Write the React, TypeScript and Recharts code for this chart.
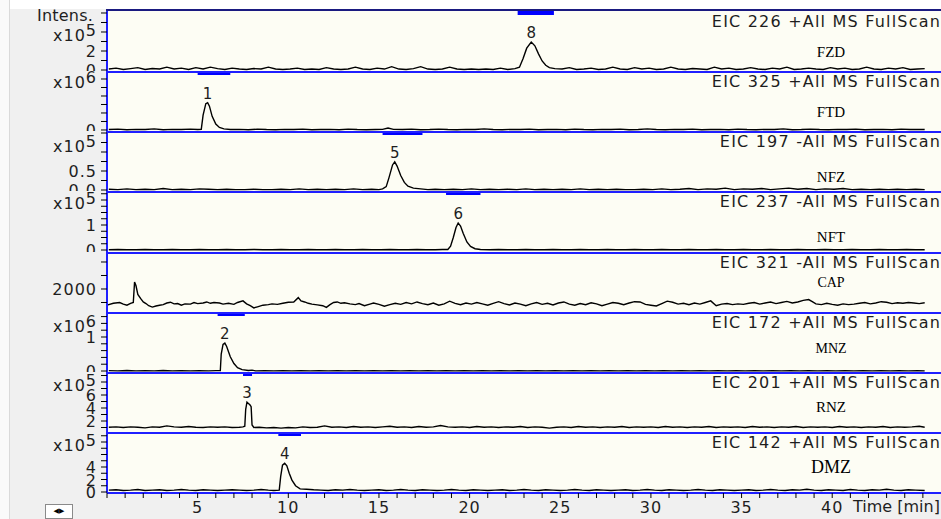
import { LineChart, Line, XAxis, YAxis, ReferenceArea, ReferenceDot } from "recharts";

type Pt = [number, number];

// [retention time (min), intensity in the units of each trace's axis]
const fzdTrace: Pt[] = [
  [0.1, 0.1], [0.5, 0.2], [0.9, 0.05], [1.3, 0.15], [1.7, 0.25], [2.1, 0.05], [2.5, 0.15], [2.9, 0.1], [3.3, 0.3], [3.7, 0.1],
  [4.1, 0.2], [4.5, 0.05], [4.9, 0.25], [5.3, 0.1], [5.7, 0.3], [6.1, 0.15], [6.5, 0.05], [6.9, 0.2], [7.3, 0.1], [7.7, 0.05],
  [8.1, 0.15], [8.5, 0.1], [8.9, 0.3], [9.3, 0.1], [9.7, 0.05], [10.1, 0.1], [10.5, 0.2], [10.9, 0.05], [11.3, 0.1], [11.7, 0.05],
  [12.1, 0.25], [12.5, 0.1], [12.9, 0.05], [13.3, 0.1], [13.7, 0.3], [14.1, 0.1], [14.5, 0.05], [14.9, 0.2], [15.3, 0.1], [15.7, 0.35],
  [16.1, 0.1], [16.5, 0.05], [16.9, 0.15], [17.3, 0.35], [17.7, 0.1], [18.1, 0.05], [18.5, 0.1], [18.9, 0.3], [19.3, 0.1], [19.7, 0.05],
  [20.1, 0.1], [20.5, 0.05], [20.9, 0.1], [21.3, 0.05], [21.7, 0.2], [22.1, 0.05], [22.5, 0.15], [22.75, 0.3], [22.95, 1.2], [23.15, 2.3],
  [23.4, 2.95], [23.6, 2.55], [23.8, 1.7], [24.0, 0.95], [24.2, 0.5], [24.4, 0.25], [24.7, 0.15], [25.1, 0.1], [25.5, 0.25], [25.9, 0.05],
  [26.3, 0.1], [26.7, 0.2], [27.1, 0.05], [27.5, 0.1], [27.9, 0.3], [28.3, 0.1], [28.7, 0.05], [29.1, 0.25], [29.5, 0.1], [29.9, 0.2],
  [30.3, 0.05], [30.7, 0.1], [31.1, 0.3], [31.5, 0.1], [31.9, 0.05], [32.3, 0.15], [32.7, 0.1], [33.1, 0.05], [33.5, 0.3], [33.9, 0.1],
  [34.3, 0.2], [34.7, 0.05], [35.1, 0.1], [35.5, 0.25], [35.9, 0.1], [36.3, 0.05], [36.7, 0.2], [37.1, 0.1], [37.5, 0.3], [37.9, 0.05],
  [38.3, 0.1], [38.7, 0.2], [39.1, 0.1], [39.5, 0.05], [39.9, 0.25], [40.3, 0.1], [40.7, 0.2], [41.1, 0.05], [41.5, 0.1], [41.9, 0.3],
  [42.3, 0.1], [42.7, 0.05], [43.1, 0.2], [43.5, 0.1], [43.9, 0.25], [44.3, 0.05], [44.7, 0.1], [45.1, 0.15],
];

const ftdTrace: Pt[] = [
  [0.1, 0.01], [0.6, 0.02], [1.1, 0.005], [1.6, 0.015], [2.1, 0.01], [2.6, 0.025], [3.1, 0.005], [3.6, 0.015], [4.1, 0.01], [4.6, 0.02],
  [5.0, 0.01], [5.2, 0.015], [5.3, 0.35], [5.45, 0.62], [5.55, 0.64], [5.65, 0.56], [5.8, 0.32], [6.0, 0.14], [6.2, 0.06], [6.45, 0.025],
  [6.8, 0.01], [7.3, 0.015], [7.8, 0.005], [8.3, 0.02], [8.8, 0.01], [9.3, 0.005], [9.8, 0.015], [10.3, 0.01], [10.8, 0.02], [11.3, 0.005],
  [11.8, 0.01], [12.3, 0.015], [12.8, 0.005], [13.3, 0.02], [13.8, 0.01], [14.3, 0.005], [14.8, 0.01], [15.2, 0.015], [15.5, 0.045], [15.8, 0.015],
  [16.3, 0.01], [16.8, 0.02], [17.3, 0.005], [17.8, 0.01], [18.3, 0.02], [18.8, 0.01], [19.3, 0.005], [19.8, 0.015], [20.3, 0.01], [20.8, 0.025],
  [21.3, 0.01], [21.8, 0.005], [22.3, 0.015], [22.8, 0.01], [23.3, 0.02], [23.8, 0.005], [24.3, 0.01], [24.8, 0.015], [25.3, 0.005], [25.8, 0.02],
  [26.3, 0.01], [26.8, 0.005], [27.3, 0.015], [27.8, 0.01], [28.3, 0.02], [28.8, 0.005], [29.3, 0.01], [29.8, 0.025], [30.3, 0.01], [30.8, 0.005],
  [31.3, 0.015], [31.8, 0.01], [32.3, 0.02], [32.8, 0.005], [33.3, 0.01], [33.8, 0.015], [34.3, 0.005], [34.8, 0.02], [35.3, 0.01], [35.8, 0.005],
  [36.3, 0.015], [36.8, 0.01], [37.3, 0.025], [37.8, 0.005], [38.3, 0.01], [38.8, 0.02], [39.3, 0.01], [39.8, 0.005], [40.3, 0.015], [40.8, 0.01],
  [41.3, 0.02], [41.8, 0.005], [42.3, 0.01], [42.8, 0.015], [43.3, 0.005], [43.8, 0.02], [44.3, 0.01], [44.8, 0.015], [45.1, 0.01],
];

const nfzTrace: Pt[] = [
  [0.1, 0.02], [0.6, 0.01], [1.1, 0.03], [1.6, 0.01], [2.1, 0.02], [2.6, 0.01], [3.1, 0.04], [3.6, 0.01], [4.1, 0.02], [4.6, 0.01],
  [5.1, 0.03], [5.6, 0.02], [6.1, 0.01], [6.6, 0.02], [7.1, 0.01], [7.6, 0.01], [8.1, 0.02], [8.6, 0.01], [9.1, 0.01], [9.6, 0.02],
  [10.1, 0.01], [10.6, 0.03], [11.1, 0.01], [11.6, 0.02], [12.1, 0.01], [12.6, 0.02], [13.1, 0.01], [13.6, 0.03], [14.1, 0.01], [14.6, 0.02],
  [15.0, 0.01], [15.2, 0.03], [15.4, 0.09], [15.55, 0.32], [15.75, 0.66], [15.87, 0.74], [16.0, 0.63], [16.2, 0.38], [16.4, 0.2], [16.6, 0.1],
  [16.9, 0.05], [17.3, 0.03], [17.7, 0.01], [18.1, 0.02], [18.6, 0.01], [19.1, 0.02], [19.6, 0.01], [20.1, 0.03], [20.6, 0.01], [21.1, 0.02],
  [21.6, 0.01], [22.1, 0.02], [22.6, 0.01], [23.1, 0.03], [23.6, 0.01], [24.1, 0.02], [24.6, 0.01], [25.1, 0.02], [25.6, 0.01], [26.1, 0.03],
  [26.6, 0.01], [27.1, 0.02], [27.6, 0.01], [28.1, 0.02], [28.6, 0.01], [29.1, 0.01], [29.6, 0.02], [30.1, 0.01], [30.6, 0.03], [31.1, 0.01],
  [31.6, 0.02], [32.1, 0.04], [32.6, 0.01], [33.1, 0.03], [33.6, 0.02], [34.1, 0.05], [34.6, 0.01], [35.1, 0.03], [35.6, 0.02], [36.1, 0.04],
  [36.6, 0.01], [37.1, 0.03], [37.6, 0.05], [38.1, 0.02], [38.6, 0.04], [39.1, 0.01], [39.6, 0.03], [40.1, 0.02], [40.6, 0.04], [41.1, 0.01],
  [41.6, 0.02], [42.1, 0.01], [42.6, 0.02], [43.1, 0.01], [43.6, 0.02], [44.1, 0.01], [44.6, 0.02], [45.1, 0.01],
];

const nftTrace: Pt[] = [
  [0.1, 0.01], [0.6, 0.02], [1.1, 0.01], [1.6, 0.01], [2.1, 0.02], [2.6, 0.01], [3.1, 0.01], [3.6, 0.02], [4.1, 0.01], [4.6, 0.01],
  [5.1, 0.02], [5.6, 0.01], [6.1, 0.01], [6.6, 0.02], [7.1, 0.01], [7.6, 0.01], [8.1, 0.02], [8.6, 0.01], [9.1, 0.01], [9.6, 0.02],
  [10.1, 0.01], [10.6, 0.01], [11.1, 0.02], [11.6, 0.01], [12.1, 0.01], [12.6, 0.02], [13.1, 0.01], [13.6, 0.01], [14.1, 0.02], [14.6, 0.01],
  [15.1, 0.01], [15.6, 0.02], [16.1, 0.01], [16.6, 0.01], [17.1, 0.02], [17.6, 0.01], [18.1, 0.01], [18.5, 0.02], [18.8, 0.02], [18.95, 0.15],
  [19.1, 0.5], [19.25, 0.9], [19.37, 1.08], [19.5, 0.96], [19.65, 0.66], [19.85, 0.32], [20.05, 0.14], [20.3, 0.05], [20.6, 0.02], [21.1, 0.01],
  [21.6, 0.02], [22.1, 0.01], [22.6, 0.01], [23.1, 0.02], [23.6, 0.01], [24.1, 0.01], [24.6, 0.02], [25.1, 0.01], [25.6, 0.01], [26.1, 0.02],
  [26.6, 0.01], [27.1, 0.01], [27.6, 0.02], [28.1, 0.01], [28.6, 0.01], [29.1, 0.02], [29.6, 0.01], [30.1, 0.01], [30.6, 0.02], [31.1, 0.01],
  [31.6, 0.01], [32.1, 0.02], [32.6, 0.01], [33.1, 0.01], [33.6, 0.02], [34.1, 0.01], [34.6, 0.01], [35.1, 0.02], [35.6, 0.01], [36.1, 0.01],
  [36.6, 0.02], [37.1, 0.01], [37.6, 0.01], [38.1, 0.02], [38.6, 0.01], [39.1, 0.01], [39.6, 0.02], [40.1, 0.01], [40.6, 0.01], [41.1, 0.02],
  [41.6, 0.01], [42.1, 0.01], [42.6, 0.02], [43.1, 0.01], [43.6, 0.01], [44.1, 0.02], [44.6, 0.01], [45.1, 0.01],
];

const capTrace: Pt[] = [
  [0.05, 1410], [0.35, 1470], [0.7, 1500], [0.9, 1440], [1.1, 1400], [1.3, 1470], [1.45, 1500], [1.52, 2260], [1.6, 2120], [1.7, 1800],
  [1.85, 1650], [2.0, 1520], [2.15, 1460], [2.3, 1380], [2.5, 1330], [2.7, 1370], [2.9, 1400], [3.1, 1420], [3.3, 1480], [3.5, 1510],
  [3.7, 1450], [3.9, 1460], [4.1, 1400], [4.3, 1450], [4.6, 1440], [4.8, 1500], [5.0, 1460], [5.3, 1480], [5.5, 1520], [5.7, 1470],
  [5.9, 1500], [6.2, 1480], [6.4, 1440], [6.7, 1470], [7.0, 1430], [7.2, 1500], [7.5, 1560], [7.7, 1450], [7.9, 1380], [8.1, 1300],
  [8.3, 1340], [8.6, 1400], [8.9, 1420], [9.1, 1450], [9.4, 1430], [9.7, 1470], [10.0, 1510], [10.3, 1520], [10.55, 1680], [10.7, 1560],
  [10.9, 1520], [11.1, 1470], [11.3, 1440], [11.6, 1410], [11.9, 1380], [12.1, 1320], [12.3, 1420], [12.5, 1500], [12.7, 1520], [12.9, 1470],
  [13.1, 1490], [13.4, 1450], [13.7, 1420], [13.9, 1460], [14.2, 1380], [14.5, 1440], [14.7, 1480], [15.0, 1430], [15.3, 1360], [15.6, 1420],
  [15.9, 1470], [16.2, 1430], [16.5, 1500], [16.8, 1450], [17.1, 1520], [17.4, 1460], [17.7, 1420], [18.0, 1480], [18.3, 1400], [18.6, 1450],
  [18.9, 1550], [19.2, 1470], [19.5, 1420], [19.8, 1480], [20.1, 1440], [20.4, 1500], [20.7, 1450], [21.0, 1400], [21.3, 1470], [21.6, 1530],
  [21.9, 1460], [22.2, 1410], [22.5, 1480], [22.8, 1440], [23.1, 1380], [23.4, 1450], [23.7, 1500], [24.0, 1430], [24.3, 1470], [24.6, 1410],
  [24.9, 1480], [25.2, 1520], [25.5, 1440], [25.8, 1400], [26.1, 1460], [26.4, 1420], [26.7, 1490], [27.0, 1450], [27.3, 1380], [27.6, 1440],
  [27.9, 1500], [28.2, 1470], [28.5, 1420], [28.8, 1480], [29.1, 1530], [29.4, 1520], [29.7, 1430], [30.0, 1400], [30.3, 1370], [30.6, 1460],
  [30.9, 1550], [31.2, 1510], [31.5, 1440], [31.8, 1470], [32.1, 1420], [32.4, 1480], [32.7, 1440], [33.0, 1500], [33.3, 1560], [33.6, 1380],
  [33.9, 1440], [34.2, 1460], [34.5, 1420], [34.8, 1450], [35.1, 1430], [35.4, 1470], [35.7, 1500], [36.0, 1440], [36.3, 1480], [36.6, 1520],
  [36.9, 1460], [37.2, 1500], [37.5, 1540], [37.8, 1480], [38.1, 1520], [38.4, 1580], [38.7, 1610], [38.9, 1530], [39.1, 1450], [39.4, 1420],
  [39.7, 1470], [40.0, 1430], [40.3, 1400], [40.6, 1450], [40.9, 1420], [41.2, 1440], [41.5, 1470], [41.8, 1500], [42.1, 1450], [42.4, 1480],
  [42.7, 1530], [43.0, 1510], [43.3, 1460], [43.6, 1490], [43.9, 1470], [44.2, 1500], [44.5, 1480], [44.8, 1460], [45.1, 1490],
];

const mnzTrace: Pt[] = [
  [0.1, 0.01], [0.6, 0.005], [1.1, 0.015], [1.6, 0.005], [2.1, 0.01], [2.6, 0.005], [3.1, 0.015], [3.6, 0.005], [4.1, 0.01], [4.6, 0.005],
  [5.1, 0.01], [5.6, 0.005], [6.0, 0.01], [6.25, 0.01], [6.3, 0.5], [6.4, 0.78], [6.5, 0.82], [6.6, 0.72], [6.8, 0.42], [7.0, 0.22],
  [7.2, 0.1], [7.45, 0.04], [7.8, 0.015], [8.0, 0.025], [8.2, 0.005], [8.7, 0.01], [9.2, 0.005], [9.7, 0.01], [10.2, 0.005], [10.7, 0.01],
  [11.2, 0.005], [11.7, 0.01], [12.2, 0.005], [12.7, 0.01], [13.2, 0.005], [13.7, 0.01], [14.2, 0.005], [14.7, 0.01], [15.2, 0.005], [15.7, 0.01],
  [16.2, 0.005], [16.7, 0.01], [17.2, 0.005], [17.7, 0.01], [18.2, 0.005], [18.7, 0.01], [19.2, 0.005], [19.7, 0.01], [20.2, 0.005], [20.7, 0.01],
  [21.2, 0.005], [21.7, 0.01], [22.2, 0.005], [22.7, 0.01], [23.2, 0.005], [23.7, 0.01], [24.2, 0.005], [24.7, 0.01], [25.2, 0.005], [25.7, 0.01],
  [26.2, 0.005], [26.7, 0.01], [27.2, 0.005], [27.7, 0.01], [28.2, 0.005], [28.7, 0.01], [29.2, 0.005], [29.7, 0.01], [30.2, 0.005], [30.7, 0.01],
  [31.2, 0.005], [31.7, 0.01], [32.2, 0.005], [32.7, 0.01], [33.2, 0.005], [33.7, 0.01], [34.2, 0.005], [34.7, 0.01], [35.2, 0.005], [35.7, 0.01],
  [36.2, 0.005], [36.7, 0.01], [37.2, 0.005], [37.7, 0.01], [38.2, 0.005], [38.7, 0.01], [39.2, 0.005], [39.7, 0.01], [40.2, 0.005], [40.7, 0.01],
  [41.2, 0.005], [41.7, 0.01], [42.2, 0.005], [42.7, 0.01], [43.2, 0.005], [43.7, 0.01], [44.2, 0.005], [44.7, 0.01], [45.1, 0.005],
];

const rnzTrace: Pt[] = [
  [0.1, 1.05], [0.5, 1.1], [0.9, 1.0], [1.3, 1.1], [1.7, 1.05], [2.1, 0.95], [2.5, 1.1], [2.9, 1.05], [3.3, 1.25], [3.7, 1.1],
  [4.1, 1.05], [4.5, 1.15], [4.9, 1.05], [5.3, 1.0], [5.7, 1.1], [6.1, 1.05], [6.5, 1.1], [6.9, 1.0], [7.3, 1.05], [7.5, 1.1],
  [7.6, 1.2], [7.65, 3.8], [7.72, 4.9], [7.8, 4.7], [7.88, 4.5], [7.95, 4.2], [8.0, 1.4], [8.1, 1.0], [8.4, 1.05], [8.8, 0.95],
  [9.2, 1.0], [9.6, 0.9], [10.0, 1.0], [10.4, 0.95], [10.8, 1.1], [11.2, 1.0], [11.6, 1.05], [12.0, 1.25], [12.4, 1.05], [12.8, 1.1],
  [13.2, 1.0], [13.6, 1.15], [14.0, 1.05], [14.4, 1.1], [14.8, 1.0], [15.2, 1.1], [15.6, 1.2], [16.0, 1.05], [16.4, 1.1], [16.8, 1.0],
  [17.2, 1.15], [17.6, 1.05], [18.0, 1.1], [18.4, 1.3], [18.8, 1.1], [19.2, 1.05], [19.6, 1.1], [20.0, 1.0], [20.4, 1.15], [20.8, 1.05],
  [21.2, 1.1], [21.6, 1.0], [22.0, 1.1], [22.4, 1.05], [22.8, 1.15], [23.2, 1.0], [23.6, 1.1], [24.0, 1.05], [24.4, 0.9], [24.8, 1.05],
  [25.2, 1.1], [25.6, 1.0], [26.0, 1.15], [26.4, 1.05], [26.8, 1.1], [27.2, 1.0], [27.6, 1.1], [28.0, 1.05], [28.4, 1.15], [28.8, 1.0],
  [29.2, 1.1], [29.6, 1.05], [30.0, 1.1], [30.4, 1.0], [30.8, 1.15], [31.2, 1.05], [31.6, 1.1], [32.0, 1.0], [32.4, 1.1], [32.8, 1.05],
  [33.2, 1.15], [33.6, 1.0], [34.0, 1.1], [34.4, 1.05], [34.8, 1.1], [35.2, 1.0], [35.6, 1.15], [36.0, 1.05], [36.4, 1.1], [36.8, 1.0],
  [37.2, 1.1], [37.6, 1.05], [38.0, 1.15], [38.4, 1.0], [38.8, 1.1], [39.2, 1.05], [39.6, 1.1], [40.0, 1.0], [40.4, 1.15], [40.8, 1.05],
  [41.2, 1.1], [41.6, 1.0], [42.0, 1.1], [42.4, 1.05], [42.8, 1.15], [43.2, 1.0], [43.6, 1.1], [44.0, 1.05], [44.4, 1.1], [44.8, 1.2], [45.1, 1.05],
];

const dmzTrace: Pt[] = [
  [0.1, 0.3], [0.5, 0.35], [0.9, 0.25], [1.3, 0.3], [1.7, 0.4], [2.1, 0.25], [2.5, 0.3], [2.9, 0.35], [3.3, 0.25], [3.7, 0.3],
  [4.1, 0.4], [4.5, 0.3], [4.9, 0.25], [5.3, 0.35], [5.7, 0.3], [6.1, 0.25], [6.5, 0.3], [6.9, 0.35], [7.3, 0.3], [7.7, 0.25],
  [8.1, 0.3], [8.5, 0.4], [8.9, 0.3], [9.2, 0.25], [9.5, 0.3], [9.58, 2.5], [9.68, 4.3], [9.8, 4.6], [9.92, 4.2], [10.05, 3.0],
  [10.2, 1.9], [10.4, 1.0], [10.65, 0.5], [11.0, 0.45], [11.4, 0.35], [11.8, 0.3], [12.2, 0.25], [12.6, 0.35], [13.0, 0.3], [13.4, 0.4],
  [13.8, 0.3], [14.2, 0.25], [14.6, 0.3], [15.0, 0.35], [15.4, 0.25], [15.8, 0.3], [16.2, 0.4], [16.6, 0.3], [17.0, 0.25], [17.4, 0.35],
  [17.8, 0.3], [18.2, 0.25], [18.6, 0.3], [19.0, 0.4], [19.4, 0.3], [19.8, 0.25], [20.2, 0.35], [20.6, 0.3], [21.0, 0.25], [21.4, 0.3],
  [21.8, 0.35], [22.2, 0.25], [22.6, 0.3], [23.0, 0.4], [23.4, 0.3], [23.8, 0.25], [24.2, 0.35], [24.6, 0.3], [25.0, 0.25], [25.4, 0.3],
  [25.8, 0.4], [26.2, 0.3], [26.6, 0.25], [27.0, 0.35], [27.4, 0.3], [27.8, 0.25], [28.2, 0.3], [28.6, 0.35], [29.0, 0.25], [29.4, 0.3],
  [29.8, 0.4], [30.2, 0.3], [30.6, 0.25], [31.0, 0.35], [31.4, 0.3], [31.8, 0.25], [32.2, 0.3], [32.6, 0.4], [33.0, 0.3], [33.4, 0.25],
  [33.8, 0.35], [34.2, 0.3], [34.6, 0.25], [35.0, 0.3], [35.4, 0.35], [35.8, 0.25], [36.2, 0.3], [36.6, 0.4], [37.0, 0.3], [37.4, 0.25],
  [37.8, 0.35], [38.2, 0.3], [38.6, 0.45], [39.0, 0.3], [39.4, 0.25], [39.8, 0.35], [40.2, 0.3], [40.6, 0.25], [41.0, 0.4], [41.4, 0.3],
  [41.8, 0.25], [42.2, 0.35], [42.6, 0.3], [43.0, 0.45], [43.4, 0.3], [43.8, 0.25], [44.2, 0.35], [44.6, 0.3], [45.1, 0.25],
];

const traces = [fzdTrace, ftdTrace, nfzTrace, nftTrace, capTrace, mnzTrace, rnzTrace, dmzTrace];
const compounds = ["FZD", "FTD", "NFZ", "NFT", "CAP", "MNZ", "RNZ", "DMZ"];
const eicTitles = [
  "EIC 226 +All MS FullScan",
  "EIC 325 +All MS FullScan",
  "EIC 197 -All MS FullScan",
  "EIC 237 -All MS FullScan",
  "EIC 321 -All MS FullScan",
  "EIC 172 +All MS FullScan",
  "EIC 201 +All MS FullScan",
  "EIC 142 +All MS FullScan",
];
const peakNumbers = ["8", "1", "5", "6", "", "2", "3", "4"];
// retention windows (min) flagged on top of each trace
const peakWindows: ([number, number] | null)[] = [
  [22.65, 24.65], [5.0, 6.8], [15.2, 17.4], [18.7, 20.6], null, [6.1, 7.6], [7.5, 8.0], [9.45, 10.7],
];

const yDomains: [number, number][] = [
  [-0.105, 6.21], [-0.024, 1.388], [-0.026, 1.553], [-0.08, 2.36], [1148, 3370], [-0.029, 1.735], [0.31, 9.54], [-0.16, 9.6],
];
const yTicks: number[][] = [
  [0, 1, 2, 3, 4, 5, 6],
  [0, 0.2, 0.4, 0.6, 0.8, 1, 1.2],
  [0, 0.25, 0.5, 0.75, 1, 1.25, 1.5],
  [0, 0.25, 0.5, 0.75, 1, 1.25, 1.5, 1.75, 2, 2.25],
  [1500, 2000, 2500, 3000],
  [0, 0.2, 0.4, 0.6, 0.8, 1, 1.2, 1.4, 1.6],
  [1, 2, 3, 4, 5, 6, 7, 8, 9],
  [0, 1, 2, 3, 4, 5, 6, 7, 8, 9],
];
const yTickLabels: Record<string, string>[] = [
  { "0": "0", "2": "2", "4": "x10^5" },
  { "0": "0", "1.2": "x10^6" },
  { "0": "0.0", "0.5": "0.5", "1.25": "x10^5" },
  { "0": "0", "1": "1", "2": "x10^5" },
  { "2000": "2000" },
  { "0": "0", "1": "1", "1.4": "x10^6" },
  { "2": "2", "4": "4", "6": "6", "8": "x10^5" },
  { "0": "0", "2": "2", "4": "4", "8": "x10^5" },
];
const timeTicks = [
  0, 1, 2, 3, 4, 5, 6, 7, 8, 9, 10, 11, 12, 13, 14, 15, 16, 17, 18, 19, 20, 21, 22, 23,
  24, 25, 26, 27, 28, 29, 30, 31, 32, 33, 34, 35, 36, 37, 38, 39, 40, 41, 42, 43, 44, 45,
];
const timeLabels = [5, 10, 15, 20, 25, 30, 35, 40];

// layout
const W = 941;
const AXIS_W = 107;
const panelTops = [11, 71, 131, 191, 252, 312, 372, 432];
const panelHeights = [60, 60, 60, 61, 60, 60, 60, 61];
const nameOffsets = [41, 41, 46, 46, 31, 37, 35, 35];
const nameSizes = [15, 15, 15, 15, 14, 14, 15, 18];
const BLUE = "#1f1fff";
const INK = "#1e1e1e";
const SANS = "'DejaVu Sans', Verdana, sans-serif";
const SERIF = "'Liberation Serif', 'Times New Roman', serif";

function makeYTick(labels: Record<string, string>) {
  return (props: any) => {
    const { x, y, payload } = props;
    const text = labels[String(payload.value)];
    if (!text) return <g />;
    const [base, exp] = text.split("^");
    return (
      <text x={x} y={y} dy={exp ? 9 : 6} textAnchor="end" fontSize={16} letterSpacing={1} fill={INK} fontFamily={SANS}>
        {base}
        {exp && <tspan dy={-5}>{exp}</tspan>}
      </text>
    );
  };
}

function TimeTick(props: any) {
  const { x, y, payload } = props;
  if (!timeLabels.includes(payload.value)) return <g />;
  return (
    <text x={x} y={y} dy={13} textAnchor="middle" fontSize={16} letterSpacing={1} fill={INK} fontFamily={SANS}>
      {payload.value}
    </text>
  );
}

function Panel({ index }: { index: number }) {
  const trace = traces[index];
  const rows = trace.map(([t, v]) => ({ t, v }));
  const [lo, hi] = yDomains[index];
  const h = panelHeights[index];
  const last = index === traces.length - 1;
  const apex = trace.reduce((best, p) => (p[1] > best[1] ? p : best), trace[0]);
  const win = peakWindows[index];
  const barDepth = ((hi - lo) * 4) / h;

  return (
    <LineChart
      width={W}
      height={last ? h + 26 : h}
      data={rows}
      margin={{ top: 0, right: 0, bottom: 0, left: 0 }}
    >
      <XAxis
        type="number"
        dataKey="t"
        domain={[0, 46]}
        allowDataOverflow
        hide={!last}
        ticks={timeTicks}
        interval={0}
        height={26}
        tickSize={5}
        tickMargin={2}
        axisLine={{ stroke: BLUE, strokeWidth: 2 }}
        tickLine={{ stroke: "#000" }}
        tick={<TimeTick />}
      />
      <YAxis
        type="number"
        domain={[lo, hi]}
        allowDataOverflow
        ticks={yTicks[index]}
        interval={0}
        width={AXIS_W}
        tickSize={6}
        tickMargin={4}
        axisLine={{ stroke: BLUE, strokeWidth: 2 }}
        tickLine={{ stroke: "#000" }}
        tick={makeYTick(yTickLabels[index])}
      />
      {win && (
        <ReferenceArea x1={win[0]} x2={win[1]} y1={hi - barDepth} y2={hi} fill="#0000ff" fillOpacity={1} stroke="none" />
      )}
      <Line
        type="linear"
        dataKey="v"
        stroke="#000"
        strokeWidth={1.4}
        dot={false}
        isAnimationActive={false}
      />
      {peakNumbers[index] && (
        <ReferenceDot
          x={apex[0]}
          y={apex[1]}
          r={0}
          fill="none"
          stroke="none"
          label={{ value: peakNumbers[index], position: "top", offset: 4, fontSize: 15, fill: INK, fontFamily: SANS }}
        />
      )}
    </LineChart>
  );
}

export default function App() {
  const abs = { position: "absolute" as const };
  return (
    <div style={{ ...abs, left: 0, top: 0, width: W, height: 519, overflow: "hidden", background: "#f0f0f0", fontFamily: SANS }}>
      <div style={{ ...abs, left: 0, top: 0, width: W, height: 9, background: "#ffffff" }} />
      <div style={{ ...abs, left: 0, top: 0, width: 9, height: 519, background: "#fafafa", borderRight: "1px solid #dadada" }} />
      <div style={{ ...abs, left: AXIS_W, top: 11, width: W - AXIS_W, height: 482, background: "#fdfdf4" }} />
      <div style={{ ...abs, left: AXIS_W - 1, top: 9, width: W - AXIS_W + 1, height: 2, background: "#1a1a80" }} />

      {traces.map((_, i) => (
        <div key={compounds[i]} style={{ ...abs, left: 0, top: panelTops[i] }}>
          <Panel index={i} />
        </div>
      ))}

      {panelTops.slice(1).map((top) => (
        <div key={top} style={{ ...abs, left: AXIS_W, top, width: W - AXIS_W, height: 2, background: BLUE }} />
      ))}

      {eicTitles.map((title, i) => (
        <div
          key={title}
          style={{ ...abs, right: 0, top: panelTops[i] + 2, height: 18, lineHeight: "18px", fontSize: 16, letterSpacing: 1.2, color: INK, whiteSpace: "nowrap" }}
        >
          {title}
        </div>
      ))}

      {compounds.map((name, i) => (
        <div
          key={name}
          style={{
            ...abs,
            left: 781,
            width: 100,
            textAlign: "center",
            top: panelTops[i] + nameOffsets[i] - 10,
            height: 20,
            lineHeight: "20px",
            fontFamily: SERIF,
            fontSize: nameSizes[i],
            color: "#000",
          }}
        >
          {name}
        </div>
      ))}

      <div style={{ ...abs, right: 848, top: 7, lineHeight: "18px", fontSize: 16, letterSpacing: 0.2, color: INK }}>Intens.</div>
      <div style={{ ...abs, left: 853, top: 498, lineHeight: "18px", fontSize: 16, letterSpacing: 0, color: INK, whiteSpace: "nowrap" }}>
        Time [min]
      </div>
      <div
        style={{
          ...abs,
          left: 45,
          top: 504,
          width: 26,
          height: 13,
          border: "1px solid #8a8a8a",
          background: "#ffffff",
          fontSize: 7,
          lineHeight: "13px",
          textAlign: "center",
          color: "#000",
        }}
      >
        ◀▶
      </div>
    </div>
  );
}
